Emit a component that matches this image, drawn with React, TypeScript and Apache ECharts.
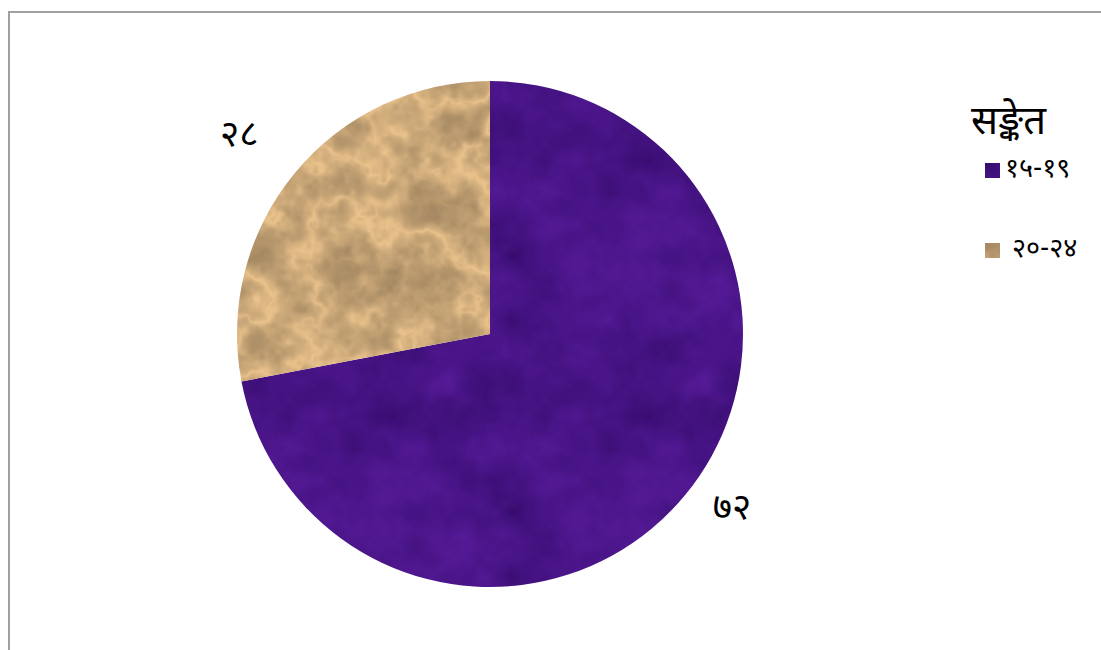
import React, { useEffect, useRef } from "react";
import * as echarts from "echarts";

// Age groups and their shares (percent)
const ageGroups: string[] = ["१५-१९", "२०-२४"];
const shares: number[] = [72, 28];
const shareLabels: string[] = ["७२", "२८"];
const legendTitle = "सङ्केत";

const FONT = "'Noto Sans Devanagari', 'Lohit Devanagari', Mangal, 'FreeSans', 'Noto Sans', sans-serif";

// Deterministic value noise used to build the fabric / paper fill textures.
function hash(x: number, y: number): number {
  const s = Math.sin(x * 127.1 + y * 311.7) * 43758.5453;
  return s - Math.floor(s);
}
function smooth(x: number, y: number, period: number): number {
  const xi = Math.floor(x);
  const yi = Math.floor(y);
  const xf = x - xi;
  const yf = y - yi;
  const u = xf * xf * (3 - 2 * xf);
  const v = yf * yf * (3 - 2 * yf);
  const w = (a: number) => ((a % period) + period) % period;
  const a = hash(w(xi), w(yi));
  const b = hash(w(xi + 1), w(yi));
  const c = hash(w(xi), w(yi + 1));
  const d = hash(w(xi + 1), w(yi + 1));
  return a + (b - a) * u + (c - a) * v + (a - b - c + d) * u * v;
}
function fbm(x: number, y: number, size: number, baseCells: number): number {
  let total = 0;
  let amp = 0.5;
  let cells = baseCells;
  for (let o = 0; o < 4; o++) {
    total += amp * smooth((x / size) * cells, (y / size) * cells, cells);
    amp *= 0.5;
    cells *= 2;
  }
  return total / 0.9375;
}

function makeTexture(kind: "fabric" | "paper"): HTMLCanvasElement {
  const size = 256;
  const canvas = document.createElement("canvas");
  canvas.width = size;
  canvas.height = size;
  const ctx = canvas.getContext("2d")!;
  const img = ctx.createImageData(size, size);
  for (let y = 0; y < size; y++) {
    for (let x = 0; x < size; x++) {
      const i = (y * size + x) * 4;
      if (kind === "fabric") {
        const n = fbm(x, y, size, 8);
        const f = (n - 0.5) * 1.2;
        img.data[i] = Math.max(0, Math.min(255, 72 + f * 30));
        img.data[i + 1] = Math.max(0, Math.min(255, 20 + f * 14));
        img.data[i + 2] = Math.max(0, Math.min(255, 134 + f * 40));
      } else {
        const n1 = fbm(x, y, size, 6);
        const n2 = fbm(x + 37, y + 91, size, 12);
        const ridge = 1 - Math.abs(n1 * 2 - 1);
        const ridge2 = 1 - Math.abs(n2 * 2 - 1);
        const shade = 0.66 + 0.26 * Math.pow(ridge, 3) + 0.14 * ridge2;
        img.data[i] = Math.max(0, Math.min(255, 222 * shade));
        img.data[i + 1] = Math.max(0, Math.min(255, 184 * shade));
        img.data[i + 2] = Math.max(0, Math.min(255, 132 * shade));
      }
      img.data[i + 3] = 255;
    }
  }
  ctx.putImageData(img, 0, 0);
  return canvas;
}

export default function App() {
  const ref = useRef<HTMLDivElement>(null);

  useEffect(() => {
    if (!ref.current) return;
    const chart = echarts.init(ref.current, undefined, { renderer: "svg" });
    const fills = [makeTexture("fabric"), makeTexture("paper")];

    // per-slice label placement around the pie
    const labelLines = [
      { show: false, length: 23, length2: 5 },
      { show: false, length: 41, length2: 0 },
    ];
    const labelStyleKeys = ["plain", "raised"];

    chart.setOption({
      animation: false,
      backgroundColor: "transparent",
      title: {
        text: legendTitle,
        left: 966,
        top: 99,
        textStyle: { fontFamily: FONT, fontSize: 40, fontWeight: "normal", color: "#000" },
      },
      legend: {
        orient: "vertical",
        left: 980,
        top: 152,
        itemWidth: 15,
        itemHeight: 15,
        itemGap: 53,
        icon: "rect",
        textStyle: { fontFamily: FONT, fontSize: 27, color: "#000", padding: [0, 0, 0, 0] },
        formatter: (name: string) => (name === ageGroups[1] ? " " + name : name),
        data: ageGroups,
      },
      series: [
        {
          type: "pie",
          center: [490, 334],
          radius: 253,
          startAngle: 90,
          clockwise: true,
          avoidLabelOverlap: false,
          label: {
            show: true,
            position: "outside",
            fontFamily: FONT,
            fontSize: 37,
            color: "#000",
            formatter: (p: any) => `{${labelStyleKeys[p.dataIndex]}|${shareLabels[p.dataIndex]}}`,
            rich: {
              plain: { fontFamily: FONT, fontSize: 37, color: "#000" },
              raised: { fontFamily: FONT, fontSize: 37, color: "#000", padding: [0, 0, 20, 0] },
            },
          },
          labelLine: { show: false, length: 30, length2: 0 },
          emphasis: { disabled: true },
          data: ageGroups.map((name, i) => ({
            name,
            value: shares[i],
            itemStyle: { color: { image: fills[i], repeat: "repeat" } },
            labelLine: labelLines[i],
          })),
        },
      ],
    });

    return () => chart.dispose();
  }, []);

  return (
    <div style={{ position: "fixed", left: 0, top: 0, width: 1101, height: 650, background: "#fff" }}>
      <div
        style={{
          position: "absolute",
          left: 8,
          top: 11,
          width: 1200,
          height: 800,
          borderTop: "2px solid #a0a0a0",
          borderLeft: "2px solid #a0a0a0",
          boxSizing: "border-box",
        }}
      />
      <div ref={ref} style={{ position: "absolute", left: 0, top: 0, width: 1101, height: 650 }} />
    </div>
  );
}
